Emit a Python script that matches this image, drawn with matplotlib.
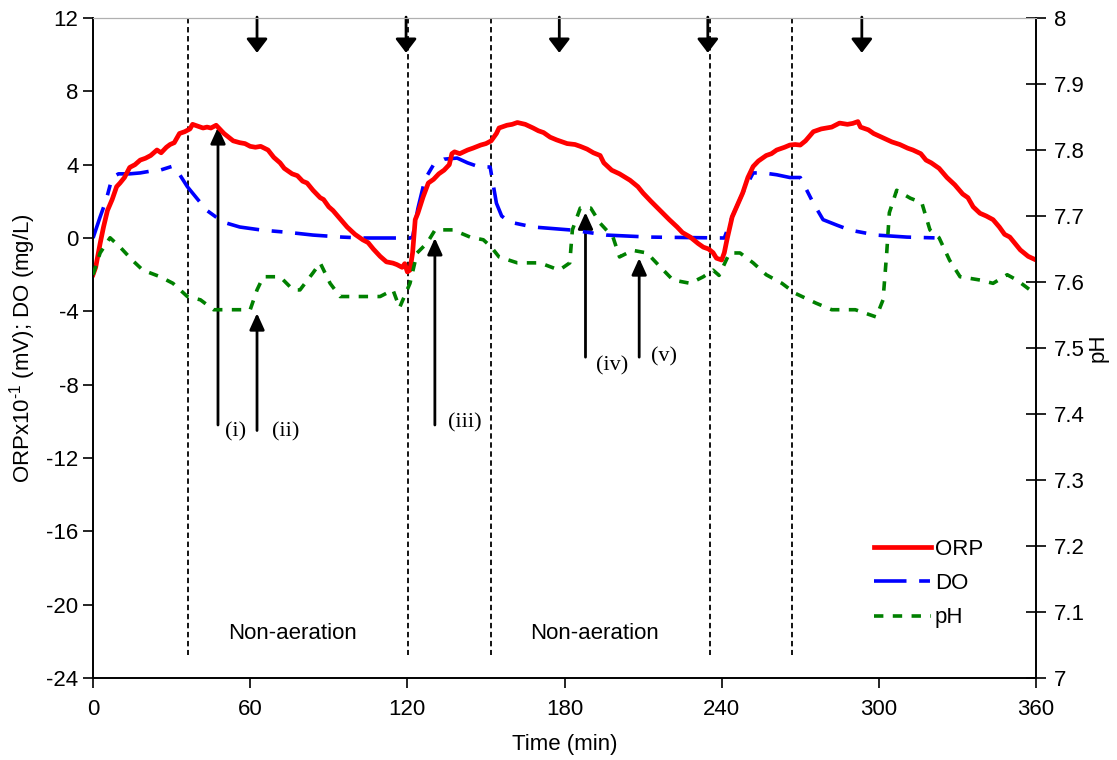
import matplotlib
matplotlib.use('Agg')
import matplotlib.pyplot as plt
import numpy as np

plt.rcParams['font.family'] = ['Liberation Sans', 'DejaVu Sans']
plt.rcParams['axes.unicode_minus'] = False
plt.rcParams['mathtext.fontset'] = 'custom'
plt.rcParams['mathtext.rm'] = 'Liberation Sans'
plt.rcParams['mathtext.default'] = 'rm'

# ORP x10^-1 (mV)
orp_t = [0, 1, 2.7, 4, 5.5, 7.3, 9, 10.3, 12, 14, 16, 18, 20, 22, 24.4, 26, 28, 29.4, 31, 33,
         35, 37, 38, 40, 42, 43.5, 45, 47, 48, 50, 53.5, 56, 58, 60, 62, 64, 66.8, 69, 71.4, 73,
         75, 76, 78, 80, 81.7, 84, 86.7, 88, 90, 91.6, 94, 97, 100, 103, 105, 107, 109.6, 112,
         114.5, 116, 118, 119, 120, 121, 122, 123, 124, 126, 128, 130, 132, 134, 136, 137, 138,
         140, 143, 145, 148, 150, 152, 154, 155, 158, 160, 162, 165, 168, 170, 172, 174.5, 177,
         179, 181, 184, 186, 188.6, 191, 193.6, 195, 198, 201, 205, 208, 210, 213, 216.5, 220,
         223, 225, 228, 231, 233, 235, 236.7, 238, 240, 241, 242, 244, 246, 248, 250, 252, 254,
         257, 259, 261, 264, 266, 268, 270, 272, 275, 278, 280, 282, 285, 288, 290, 292, 293,
         296, 298, 301, 305, 308, 311, 313, 316, 318, 320, 323, 326, 329, 332, 334, 336, 338.6,
         341, 343.6, 346, 348, 350, 352, 354, 357, 360]
orp_v = [-2.0, -1.6, -0.3, 0.6, 1.5, 2.1, 2.8, 3.0, 3.3, 3.85, 4.0, 4.25, 4.35, 4.5, 4.8, 4.65,
         4.95, 5.1, 5.2, 5.7, 5.8, 5.95, 6.2, 6.1, 6.0, 6.05, 6.0, 6.15, 6.0, 5.7, 5.3, 5.2,
         5.15, 5.0, 4.95, 5.0, 4.8, 4.4, 4.1, 3.8, 3.6, 3.5, 3.4, 3.1, 3.0, 2.6, 2.2, 2.1, 1.7,
         1.5, 1.1, 0.6, 0.2, -0.1, -0.25, -0.6, -1.0, -1.3, -1.37, -1.45, -1.6, -1.4, -1.85,
         -1.75, -0.8, 1.0, 1.35, 2.24, 3.0, 3.2, 3.5, 3.7, 4.0, 4.6, 4.7, 4.6, 4.8, 4.9, 5.07,
         5.15, 5.3, 5.7, 6.0, 6.15, 6.2, 6.3, 6.2, 6.0, 5.85, 5.75, 5.5, 5.35, 5.25, 5.15, 5.1,
         5.0, 4.85, 4.65, 4.5, 4.1, 3.7, 3.5, 3.15, 2.8, 2.45, 2.0, 1.5, 1.0, 0.6, 0.3, 0.05,
         -0.3, -0.5, -0.6, -0.8, -1.1, -1.2, -0.8, -0.1, 1.15, 1.8, 2.45, 3.3, 3.9, 4.2, 4.5,
         4.6, 4.8, 4.95, 5.07, 5.1, 5.07, 5.3, 5.8, 5.95, 6.0, 6.05, 6.27, 6.2, 6.25, 6.35,
         6.05, 5.9, 5.7, 5.5, 5.24, 5.1, 4.9, 4.8, 4.6, 4.25, 4.1, 3.8, 3.3, 2.9, 2.4, 2.2, 1.7,
         1.35, 1.2, 1.0, 0.6, 0.2, 0.05, -0.3, -0.65, -1.0, -1.2]

# DO (mg/L)
do_t = [0, 2.7, 5, 7.3, 9.7, 14, 18, 22, 25.6, 30, 32, 36, 40, 43.5, 49.6, 56, 64.5, 75, 84,
        95, 103, 121, 122, 124, 126.7, 130, 134, 139, 143, 147, 151.6, 154, 156, 159, 168,
        183, 196, 212.6, 241, 244, 248, 252, 256, 261, 266, 270, 272.5, 275, 278.7, 284, 289,
        299, 310.7, 323]
do_v = [0.0, 1.15, 2.07, 3.3, 3.5, 3.5, 3.55, 3.65, 3.7, 3.9, 3.7, 2.8, 2.1, 1.5, 0.87, 0.6,
        0.43, 0.3, 0.16, 0.05, 0.0, 0.0, 0.05, 1.6, 3.2, 4.0, 4.3, 4.36, 4.1, 3.9, 3.87, 1.9,
        1.2, 0.87, 0.6, 0.43, 0.16, 0.05, 0.0, 1.15, 2.45, 3.55, 3.55, 3.45, 3.3, 3.3, 2.6,
        1.9, 1.0, 0.7, 0.43, 0.16, 0.05, 0.0]

# pH
ph_t = [0, 2.7, 6.5, 10.3, 15, 19, 25.6, 30.5, 36, 41, 46, 60, 62.6, 65, 71.4, 76.4, 79, 84,
        86.7, 90.5, 94.3, 104.6, 109.6, 114.5, 117, 121, 123.7, 127.5, 130.6, 137.4, 144, 149,
        152, 155, 162, 170.6, 178, 182, 183, 186, 190, 193.6, 198.5, 201, 206, 211.5, 216.5,
        221.4, 228, 233, 236.7, 239, 243, 247, 252, 257, 263, 268, 276, 282, 291, 299, 301.6,
        303, 304, 306.8, 312, 316.4, 319.5, 323, 327, 331, 338.6, 343.6, 349, 352.7, 357.7, 360]
ph_v = [7.611, 7.644, 7.667, 7.653, 7.633, 7.618, 7.608, 7.598, 7.578, 7.573, 7.558, 7.558,
        7.588, 7.608, 7.608, 7.588, 7.588, 7.614, 7.629, 7.598, 7.578, 7.578, 7.578, 7.588,
        7.561, 7.598, 7.644, 7.659, 7.679, 7.679, 7.668, 7.664, 7.653, 7.638, 7.629, 7.629,
        7.618, 7.629, 7.679, 7.712, 7.712, 7.689, 7.668, 7.638, 7.648, 7.644, 7.623, 7.603,
        7.598, 7.608, 7.618, 7.610, 7.644, 7.644, 7.629, 7.611, 7.598, 7.583, 7.568, 7.558,
        7.558, 7.547, 7.573, 7.644, 7.705, 7.739, 7.727, 7.720, 7.679, 7.667, 7.633, 7.608,
        7.603, 7.598, 7.611, 7.603, 7.588, 7.588]

# phase boundaries, feed arrows and annotation arrows
phase_lines = [36.3, 120.2, 152, 235.5, 267]
feed_times = [62.6, 119.5, 178, 234.7, 293.5]
marks = ['(i)', '(ii)', '(iii)', '(iv)', '(v)']
mark_t = [47.7, 62.6, 130.5, 188, 208.5]
mark_tip = [6.05, -4.1, 0.0, 1.4, -1.1]
mark_base = [-10.2, -10.5, -10.2, -6.5, -6.5]

fig = plt.figure(figsize=(11.17, 7.6), dpi=100)
ax = fig.add_axes([0.0833, 0.1079, 0.8442, 0.8684])
ax2 = ax.twinx()

l1, = ax.plot(orp_t, orp_v, color='#ff0000', lw=3.4, label='ORP', zorder=5)
l2, = ax.plot(do_t, do_v, color='#0000ff', lw=2.6, dashes=(9, 3.5, 3, 3.5), label='DO', zorder=4)
l3, = ax2.plot(ph_t, ph_v, color='#008000', lw=2.6, dashes=(2.6, 2.6), label='pH', zorder=3)

for x in phase_lines:
    ax.plot([x, x], [12, -22.75], color='k', lw=1.3, dashes=(3, 2))

for x in feed_times:
    ax.annotate('', xy=(x, 10.1), xytext=(x, 12.05),
                arrowprops=dict(arrowstyle='-|>,head_width=0.32,head_length=0.42',
                                mutation_scale=20, lw=2, color='k', shrinkA=0, shrinkB=0))

for lab, x, tip, base in zip(marks, mark_t, mark_tip, mark_base):
    ax.annotate('', xy=(x, tip), xytext=(x, base),
                arrowprops=dict(arrowstyle='-|>,head_width=0.25,head_length=0.55',
                                mutation_scale=18, lw=2, color='k', shrinkA=0, shrinkB=0))

serif = ['Liberation Serif', 'DejaVu Serif']
ax.text(54.5, -10.6, '(i)', family=serif, fontsize=16, ha='center', va='center')
ax.text(73.5, -10.6, '(ii)', family=serif, fontsize=16, ha='center', va='center')
ax.text(142, -10.1, '(iii)', family=serif, fontsize=16, ha='center', va='center')
ax.text(198, -7.0, '(iv)', family=serif, fontsize=16, ha='center', va='center')
ax.text(218, -6.5, '(v)', family=serif, fontsize=16, ha='center', va='center')

ax.text(76, -21.6, 'Non-aeration', fontsize=16, ha='center', va='center')
ax.text(191.5, -21.6, 'Non-aeration', fontsize=16, ha='center', va='center')

ax.set_xlim(0, 360)
ax.set_ylim(-24, 12)
ax.set_xticks(np.arange(0, 361, 60))
ax.set_yticks(np.arange(-24, 13, 4))
ax2.set_ylim(7, 8)
ax2.set_yticks([7, 7.1, 7.2, 7.3, 7.4, 7.5, 7.6, 7.7, 7.8, 7.9, 8])
ax2.set_yticklabels(['7', '7.1', '7.2', '7.3', '7.4', '7.5', '7.6', '7.7', '7.8', '7.9', '8'])

ax.tick_params(axis='both', labelsize=16, direction='out', length=7, width=1.2)
ax.tick_params(axis='x', pad=8)
ax2.tick_params(axis='y', labelsize=16, direction='inout', length=14, width=1.2, pad=6)

for a in (ax, ax2):
    a.spines['top'].set_color('#b0b0b0')
    for s in ('left', 'bottom', 'right'):
        a.spines[s].set_linewidth(1.2)

ax.set_xlabel('Time (min)', fontsize=16, labelpad=10)
ax.set_ylabel(r'ORPx10$^{\text{-1}}$ (mV); DO (mg/L)', fontsize=16, labelpad=6)
ax2.set_ylabel('pH', fontsize=16, labelpad=2)

ax.legend(handles=[l1, l2, l3], loc='lower right', bbox_to_anchor=(0.965, 0.045),
          frameon=False, fontsize=16, handlelength=2.6, handletextpad=0.15,
          labelspacing=0.6)

fig.savefig('out.png', dpi=100)
